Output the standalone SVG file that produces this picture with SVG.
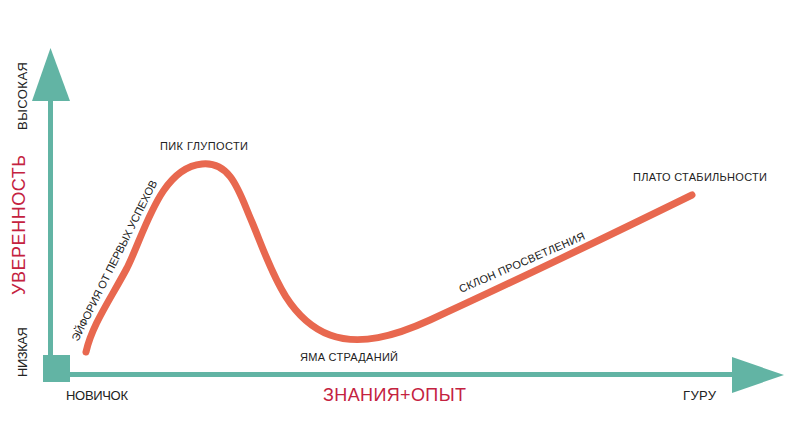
<svg xmlns="http://www.w3.org/2000/svg" width="795" height="431" viewBox="0 0 795 431">
<style>
.axis{fill:#62b4a4}
.lbl{font-family:"Liberation Sans","Open Sans",sans-serif;font-size:11px;fill:#222}
.ax{font-family:"Liberation Sans","Open Sans",sans-serif;font-size:13px;fill:#222}
.big{font-family:"Liberation Sans","Open Sans",sans-serif;font-size:18px;fill:#c4223f}
.curve{fill:none;stroke:#e8684f;stroke-width:7;stroke-linecap:round;stroke-linejoin:round}
</style>
<rect width="795" height="431" fill="#fff"/>
<g id="axes">
  <rect class="axis" x="48" y="96" width="5" height="262"/>
  <polygon class="axis" points="50.5,48 32,101 70,101"/>
  <rect class="axis" x="68" y="372" width="666" height="5"/>
  <polygon class="axis" points="732,357 784,375 732,393"/>
  <rect class="axis" x="43" y="355" width="27" height="27"/>
</g>
<g id="axis-labels">
  <text class="ax" transform="translate(27,96) rotate(-90)" text-anchor="middle" textLength="68">ВЫСОКАЯ</text>
  <text class="big" transform="translate(25,225) rotate(-90)" text-anchor="middle" textLength="140">УВЕРЕННОСТЬ</text>
  <text class="ax" transform="translate(27,352) rotate(-90)" text-anchor="middle" textLength="50">НИЗКАЯ</text>
  <text class="ax" x="66" y="400" textLength="62">НОВИЧОК</text>
  <text class="big" x="323" y="401" textLength="143">ЗНАНИЯ+ОПЫТ</text>
  <text class="ax" x="683" y="400" textLength="33">ГУРУ</text>
</g>
<g id="curve">
  <path class="curve" d="M86,352 C92,325 110,300 127,268 C145,232 160,168 202,164 C232,161 240,195 252,222 C270,265 285,318 330,335 C360,346 395,336 430,320 C500,288 600,240 692,195"/>
</g>
<g id="labels">
  <text class="lbl" x="160" y="150" textLength="88">ПИК ГЛУПОСТИ</text>
  <text class="lbl" x="633" y="181" textLength="134">ПЛАТО СТАБИЛЬНОСТИ</text>
  <text class="lbl" x="300" y="361" textLength="98">ЯМА СТРАДАНИЙ</text>
  <text class="lbl" transform="translate(461,293) rotate(-23.5)" textLength="136">СКЛОН ПРОСВЕТЛЕНИЯ</text>
  <text class="lbl" transform="translate(78,342) rotate(-63.5)" textLength="178">ЭЙФОРИЯ ОТ ПЕРВЫХ УСПЕХОВ</text>
</g>
</svg>
